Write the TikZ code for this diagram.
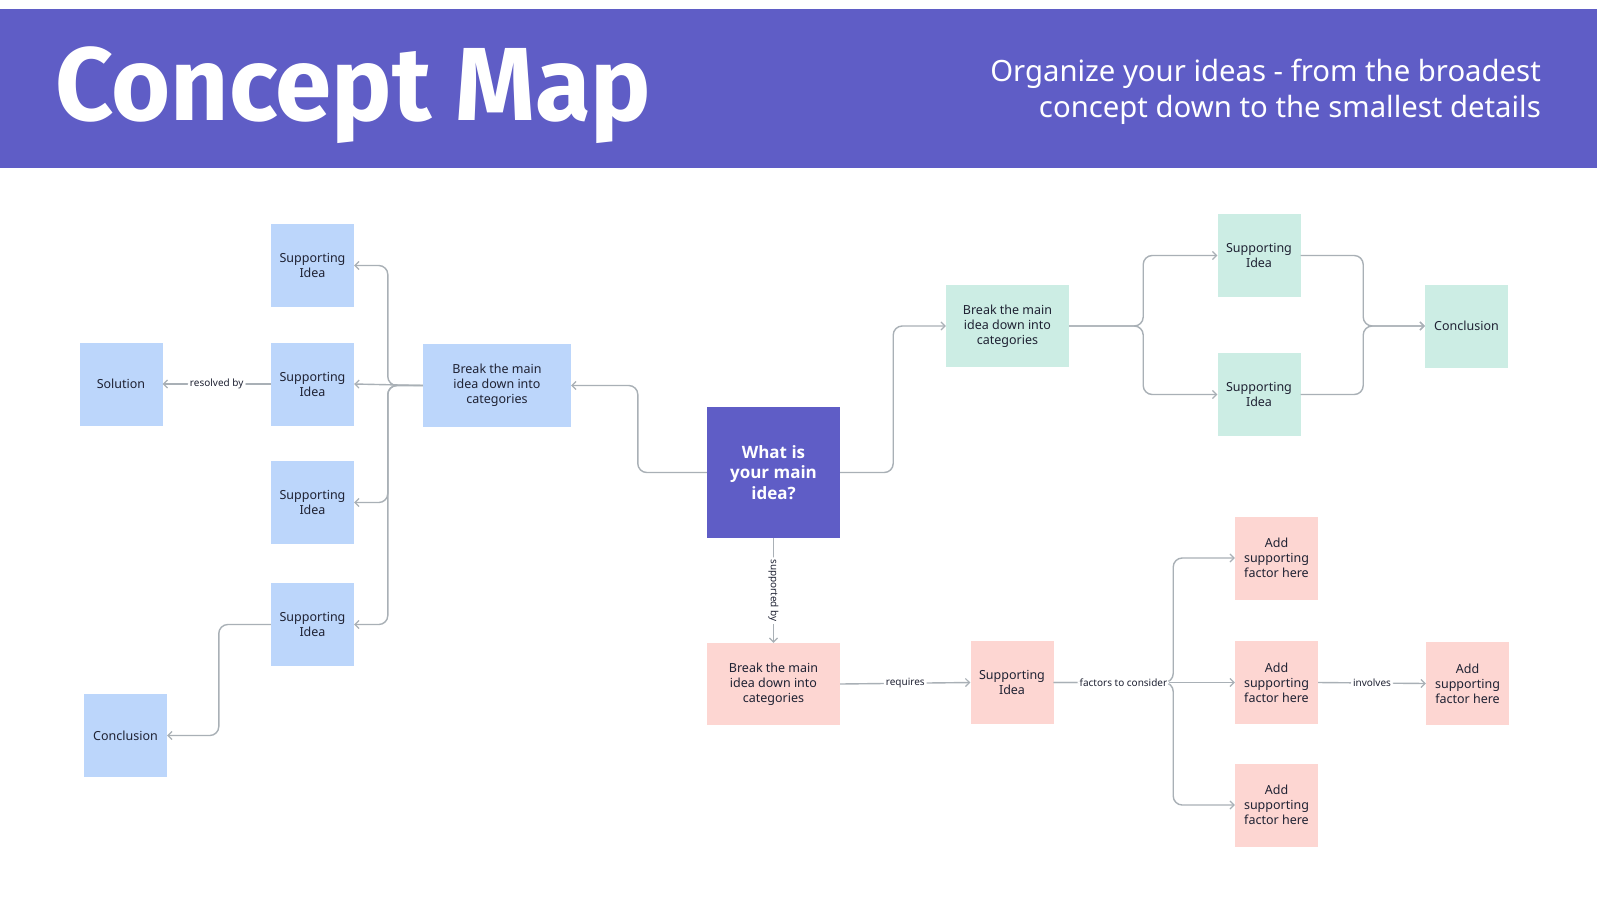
\documentclass[tikz,border=0pt]{standalone}
\usepackage{fontspec}
\setmainfont{Noto Sans}
\newfontfamily\titlefont{Fira Sans}
\newfontfamily\mainfont{Open Sans}
\usetikzlibrary{arrows.meta}
\definecolor{banner}{HTML}{5F5DC6}
\definecolor{bluebox}{HTML}{BCD6FB}
\definecolor{greenbox}{HTML}{CCEDE4}
\definecolor{pinkbox}{HTML}{FDD6D2}
\definecolor{linegray}{HTML}{A9B0B6}
\definecolor{txt}{HTML}{1F2233}
\tikzset{
  box/.style={draw=none, minimum width=83pt, minimum height=83pt, align=center,
    inner sep=2pt, text=txt, font=\fontsize{12.5}{15}\selectfont},
  bluen/.style={box, fill=bluebox},
  greenn/.style={box, fill=greenbox},
  pinkn/.style={box, fill=pinkbox},
  conn/.style={draw=linegray, line width=1.4pt, rounded corners=9pt,
    -{Straight Barb[length=4pt,width=8pt,line width=1.2pt]}},
  elabel/.style={fill=white, text=txt, inner sep=2pt, font=\fontsize{10}{12}\selectfont}
}
\begin{document}
\begin{tikzpicture}[x=1pt,y=-1pt]
\useasboundingbox (0,0) rectangle (1600,900);
\fill[white] (0,0) rectangle (1600,900);
% banner
\fill[banner] (0,9) rectangle (1597,168);
\node[anchor=base west, inner sep=0, text=white, font=\titlefont\bfseries\fontsize{104}{110}\selectfont] (title) at (55,120) {\scalebox{0.975}[1]{Concept Map}};
\node[anchor=north east, inner sep=0, align=right, text=white, font=\fontsize{29.3}{35.5}\selectfont] (subtitle) at (1541,59) {Organize your ideas - from the broadest\\concept down to the smallest details};

% main
\node[box, fill=banner, minimum width=133pt, minimum height=131pt, text=white, font=\mainfont\bfseries\fontsize{17}{20.5}\selectfont] (mainn) at (773.5,472.5) {What is\\your main\\idea?};

% blue
\node[bluen, minimum width=148pt] (bb) at (497,385.5) {Break the main\\idea down into\\categories};
\node[bluen] (si1) at (312.5,265.5) {Supporting\\Idea};
\node[bluen] (si2) at (312.5,384) {Supporting\\Idea};
\node[bluen] (si3) at (312.5,502.5) {Supporting\\Idea};
\node[bluen] (si4) at (312.5,624.5) {Supporting\\Idea};
\node[bluen] (sol) at (121,384) {Solution};
\node[bluen] (concl) at (125.5,735.5) {Conclusion};

% green
\node[greenn, minimum width=123pt, minimum height=82pt] (gb) at (1007.5,326) {Break the main\\idea down into\\categories};
\node[greenn] (gs1) at (1259,255.5) {Supporting\\Idea};
\node[greenn] (gs2) at (1259,394.5) {Supporting\\Idea};
\node[greenn] (gc) at (1466.5,326) {Conclusion};

% pink
\node[pinkn, minimum width=133pt, minimum height=82pt] (pb) at (773.5,684) {Break the main\\idea down into\\categories};
\node[pinkn] (ps) at (1012,682.5) {Supporting\\Idea};
\node[pinkn] (a1) at (1276.5,558) {Add\\supporting\\factor here};
\node[pinkn] (a2) at (1276.5,682.5) {Add\\supporting\\factor here};
\node[pinkn] (a3) at (1276.5,805) {Add\\supporting\\factor here};
\node[pinkn] (ar) at (1467.5,683.5) {Add\\supporting\\factor here};

% connectors: blue side
\draw[conn] (mainn.west) -- ++(-69,0) |- (bb.east);
\draw[conn] (bb.west) -- ++(-35,0) |- (si1.east);
\draw[conn] (bb.west) -- (si2.east);
\draw[conn] (bb.west) -- ++(-35,0) |- (si3.east);
\draw[conn] (bb.west) -- ++(-35,0) |- (si4.east);
\draw[conn] (si2.west) -- node[elabel] (lres) {resolved by} (sol.east);
\draw[conn] (si4.west) -- ++(-52,0) |- (concl.east);

% green side
\draw[conn] (mainn.east) -- ++(53,0) |- (gb.west);
\draw[conn] (gb.east) -- ++(74,0) |- (gs1.west);
\draw[conn] (gb.east) -- ++(74,0) |- (gs2.west);
\draw[conn] (gs1.east) -- ++(62.5,0) |- (gc.west);
\draw[conn] (gs2.east) -- ++(62.5,0) |- (gc.west);

% pink side
\draw[conn] (mainn.south) -- node[elabel, rotate=-90] (lsup) {supported by} (pb.north);
\draw[conn] (pb.east) -- node[elabel] (lreq) {requires} (ps.west);
\draw[conn] (ps.east) -- ++(119.5,0) |- (a1.west);
\draw[conn] (ps.east) -- ++(119.5,0) |- (a3.west);
\draw[conn] (ps.east) -- node[elabel, pos=0.385] (lfac) {factors to consider} (a2.west);
\draw[conn] (a2.east) -- node[elabel] (linv) {involves} (ar.west);
\end{tikzpicture}
\end{document}
